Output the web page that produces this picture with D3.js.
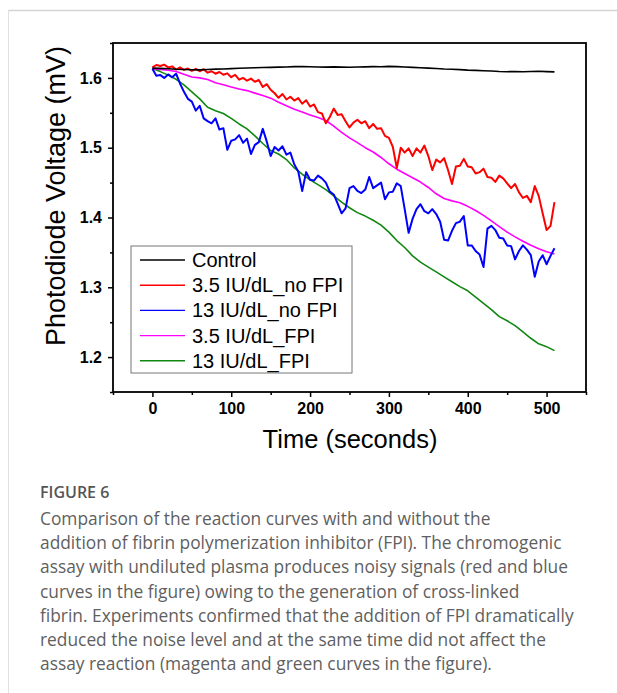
<!DOCTYPE html>
<meta charset="utf-8">
<head>
<title>Figure 6</title>
<script src="https://d3js.org/d3.v7.min.js"></script>
<style>
  body { margin: 0; background: #fff; }
</style>
</head>
<body>
<div id="chart"></div>
<script>

// time axis (seconds)
var noisyTime = d3.range(0, 511, 5);     // red & blue traces, every 5 s
var smoothTime = d3.range(0, 511, 10);   // control, magenta & green, every 10 s

var control = [1.6140, 1.6136, 1.6130, 1.6124, 1.6121, 1.6117, 1.6115, 1.6120, 1.6126, 1.6128,
  1.6133, 1.6138, 1.6141, 1.6145, 1.6148, 1.6151, 1.6155, 1.6157, 1.6161, 1.6162,
  1.6159, 1.6157, 1.6154, 1.6158, 1.6155, 1.6152, 1.6156, 1.6158, 1.6162, 1.6160,
  1.6165, 1.6162, 1.6157, 1.6151, 1.6145, 1.6140, 1.6134, 1.6128, 1.6125, 1.6119,
  1.6112, 1.6108, 1.6102, 1.6098, 1.6092, 1.6089, 1.6092, 1.6088, 1.6091, 1.6095,
  1.6090, 1.6086];

var red_noFPI = [1.6150, 1.6185, 1.6170, 1.6190, 1.6150, 1.6165, 1.6120, 1.6150, 1.6115, 1.6135,
  1.6100, 1.6130, 1.6095, 1.6125, 1.6075, 1.6095, 1.6060, 1.6085, 1.6045, 1.6065,
  1.6010, 1.6045, 1.5975, 1.6000, 1.5960, 1.5990, 1.5945, 1.5970, 1.5870, 1.5910,
  1.5830, 1.5780, 1.5715, 1.5770, 1.5690, 1.5730, 1.5675, 1.5710, 1.5630, 1.5680,
  1.5590, 1.5620, 1.5510, 1.5490, 1.5350, 1.5440, 1.5560, 1.5470, 1.5480, 1.5380,
  1.5290, 1.5360, 1.5400, 1.5350, 1.5380, 1.5280, 1.5340, 1.5270, 1.5280, 1.5170,
  1.5140, 1.5010, 1.4710, 1.5000, 1.4930, 1.4990, 1.4880, 1.4990, 1.4930, 1.5030,
  1.4880, 1.4680, 1.4830, 1.4790, 1.4850, 1.4680, 1.4480, 1.4730, 1.4740, 1.4840,
  1.4730, 1.4720, 1.4630, 1.4650, 1.4700, 1.4580, 1.4570, 1.4510, 1.4600, 1.4560,
  1.4490, 1.4420, 1.4480, 1.4360, 1.4280, 1.4310, 1.4220, 1.4450, 1.4310, 1.4060,
  1.3820, 1.3880, 1.4220];

var blue_noFPI = [1.6130, 1.6030, 1.6040, 1.6000, 1.6050, 1.6010, 1.6060, 1.5920, 1.5800, 1.5700,
  1.5660, 1.5530, 1.5600, 1.5420, 1.5380, 1.5350, 1.5420, 1.5260, 1.5280, 1.4970,
  1.5100, 1.5120, 1.5180, 1.5070, 1.5130, 1.4910, 1.5040, 1.5080, 1.5270, 1.5090,
  1.4880, 1.5010, 1.4960, 1.5020, 1.4900, 1.4930, 1.4760, 1.4660, 1.4380, 1.4650,
  1.4540, 1.4530, 1.4600, 1.4560, 1.4500, 1.4370, 1.4330, 1.4200, 1.4060, 1.4130,
  1.4420, 1.4450, 1.4380, 1.4350, 1.4400, 1.4580, 1.4420, 1.4460, 1.4500, 1.4260,
  1.4360, 1.4370, 1.4490, 1.4450, 1.4120, 1.3780, 1.3980, 1.4120, 1.4190, 1.4090,
  1.4060, 1.4120, 1.4050, 1.3940, 1.3680, 1.3670, 1.3810, 1.3920, 1.3940, 1.4020,
  1.3600, 1.3600, 1.3520, 1.3470, 1.3290, 1.3840, 1.3880, 1.3820, 1.3710, 1.3700,
  1.3600, 1.3590, 1.3400, 1.3520, 1.3600, 1.3540, 1.3460, 1.3150, 1.3370, 1.3460,
  1.3330, 1.3450, 1.3560];

var magenta_FPI = [1.6130, 1.6122, 1.6110, 1.6092, 1.6052, 1.6012, 1.6000, 1.5978, 1.5930, 1.5902,
  1.5870, 1.5842, 1.5818, 1.5782, 1.5748, 1.5710, 1.5652, 1.5600, 1.5552, 1.5510,
  1.5470, 1.5432, 1.5390, 1.5310, 1.5220, 1.5140, 1.5072, 1.5000, 1.4938, 1.4860,
  1.4770, 1.4692, 1.4630, 1.4570, 1.4508, 1.4430, 1.4340, 1.4272, 1.4238, 1.4210,
  1.4160, 1.4100, 1.4030, 1.3952, 1.3870, 1.3790, 1.3722, 1.3660, 1.3602, 1.3552,
  1.3510, 1.3478];

var green_FPI = [1.6135, 1.6090, 1.6040, 1.5980, 1.5900, 1.5800, 1.5700, 1.5580, 1.5530, 1.5490,
  1.5420, 1.5340, 1.5270, 1.5170, 1.5060, 1.4960, 1.4910, 1.4830, 1.4710, 1.4620,
  1.4540, 1.4470, 1.4400, 1.4310, 1.4220, 1.4140, 1.4070, 1.4020, 1.3960, 1.3890,
  1.3790, 1.3670, 1.3570, 1.3450, 1.3360, 1.3290, 1.3220, 1.3150, 1.3080, 1.3010,
  1.2950, 1.2860, 1.2770, 1.2680, 1.2580, 1.2520, 1.2450, 1.2360, 1.2270, 1.2190,
  1.2150, 1.2093];

var seriesNames = ["Control", "3.5 IU/dL_no FPI", "13 IU/dL_no FPI", "3.5 IU/dL_FPI", "13 IU/dL_FPI"];
var seriesColors = ["#000000", "#ff0000", "#0000ff", "#ff00ff", "#118811"];

var xMajor = [0, 100, 200, 300, 400, 500];
var xMinor = [-50, 50, 150, 250, 350, 450, 550];
var yMajor = [1.2, 1.3, 1.4, 1.5, 1.6];
var yMinor = [1.15, 1.25, 1.35, 1.45, 1.55, 1.65];

var captionTitle = "FIGURE 6";
var captionLines = [
  "Comparison of the reaction curves with and without the",
  "addition of fibrin polymerization inhibitor (FPI). The chromogenic",
  "assay with undiluted plasma produces noisy signals (red and blue",
  "curves in the figure) owing to the generation of cross-linked",
  "fibrin. Experiments confirmed that the addition of FPI dramatically",
  "reduced the noise level and at the same time did not affect the",
  "assay reaction (magenta and green curves in the figure)."
];

var series = [
  {t: smoothTime, v: control},
  {t: noisyTime, v: red_noFPI},
  {t: noisyTime, v: blue_noFPI},
  {t: smoothTime, v: magenta_FPI},
  {t: smoothTime, v: green_FPI}
];

// page size and plot frame
var W = 617, H = 693;
var plot = {left: 113, right: 586, top: 43, bottom: 392};

var svg = d3.select("#chart")
  .append("svg")
  .attr("width", W)
  .attr("height", H)
  .style("display", "block");

// card outline
svg.append("line").attr("x1", 8).attr("x2", W).attr("y1", 10.5).attr("y2", 10.5)
  .style("stroke", "#d4d4d4").style("stroke-width", 1.5);
svg.append("line").attr("x1", 8.5).attr("x2", 8.5).attr("y1", 10).attr("y2", H)
  .style("stroke", "#e0e0e0").style("stroke-width", 1);

var x = d3.scaleLinear().domain([-50, 550]).range([plot.left, plot.right]);
var y = d3.scaleLinear().domain([1.15, 1.65]).range([plot.bottom, plot.top]);

var font = "'Liberation Sans', Arial, sans-serif";

// curves, drawn in reverse so control stays on top like the original
var line = d3.line()
  .x(function(d) { return x(d[0]); })
  .y(function(d) { return y(d[1]); });

var order = [4, 3, 2, 1, 0];
order.forEach(function(i) {
  var pts = series[i].t.map(function(t, k) { return [t, series[i].v[k]]; });
  svg.append("path")
    .datum(pts)
    .attr("d", line)
    .style("fill", "none")
    .style("stroke", seriesColors[i])
    .style("stroke-width", (i == 1 || i == 2) ? 2 : 1.6)
    .style("stroke-linejoin", "round");
});

// frame
svg.append("rect")
  .attr("x", plot.left).attr("y", plot.top)
  .attr("width", plot.right - plot.left)
  .attr("height", plot.bottom - plot.top)
  .style("fill", "none")
  .style("stroke", "#000")
  .style("stroke-width", 1.8);

// bottom axis
var gx = svg.append("g").attr("transform", "translate(0," + plot.bottom + ")");
gx.call(d3.axisBottom(x).tickValues(xMajor).tickSize(5).tickPadding(6).tickFormat(d3.format("d")));
gx.append("g").call(d3.axisBottom(x).tickValues(xMinor).tickSize(3).tickFormat(""));
gx.selectAll(".domain").remove();
gx.selectAll("line").style("stroke", "#000").style("stroke-width", 1.5);
gx.selectAll("text")
  .style("font-family", font).style("font-size", "16px").style("font-weight", "bold").style("fill", "#000");

// left axis
var gy = svg.append("g").attr("transform", "translate(" + plot.left + ",0)");
gy.call(d3.axisLeft(y).tickValues(yMajor).tickSize(5).tickPadding(6).tickFormat(d3.format(".1f")));
gy.append("g").call(d3.axisLeft(y).tickValues(yMinor).tickSize(3).tickFormat(""));
gy.selectAll(".domain").remove();
gy.selectAll("line").style("stroke", "#000").style("stroke-width", 1.5);
gy.selectAll("text")
  .style("font-family", font).style("font-size", "16px").style("font-weight", "bold").style("fill", "#000");

// axis titles
svg.append("text")
  .attr("x", 350)
  .attr("y", 448)
  .attr("text-anchor", "middle")
  .style("font-family", font).style("font-size", "25.5px")
  .text("Time (seconds)");

svg.append("text")
  .attr("transform", "translate(65," + 196 + ") rotate(-90)")
  .attr("text-anchor", "middle")
  .style("font-family", font).style("font-size", "27px")
  .text("Photodiode Voltage (mV)");

// legend
var legend = svg.append("g").attr("transform", "translate(131,246)");
legend.append("rect")
  .attr("width", 221).attr("height", 127)
  .style("fill", "#fff")
  .style("stroke", "#777")
  .style("stroke-width", 1);

seriesNames.forEach(function(name, i) {
  var ly = 14 + i * 25.2;
  legend.append("line")
    .attr("x1", 9).attr("x2", 54).attr("y1", ly).attr("y2", ly)
    .style("stroke", seriesColors[i]).style("stroke-width", 1.4);
  legend.append("text")
    .attr("x", 61).attr("y", ly + 7)
    .style("font-family", font).style("font-size", "20px")
    .text(name);
});

// caption
var cap = svg.append("g");
cap.append("text")
  .attr("x", 40).attr("y", 498)
  .style("font-family", "'Open Sans', sans-serif")
  .style("font-size", "16px").style("font-weight", "600")
  .style("fill", "#555")
  .text(captionTitle);

captionLines.forEach(function(s, i) {
  cap.append("text")
    .attr("x", 40).attr("y", 525 + i * 24.2)
    .style("font-family", "'Open Sans', sans-serif")
    .style("font-size", "17.35px")
    .style("fill", "#5f5f5f")
    .text(s);
});

</script>
</body>
